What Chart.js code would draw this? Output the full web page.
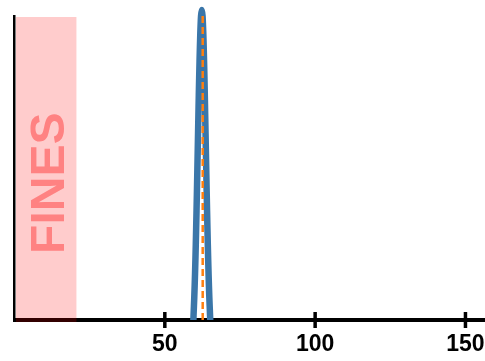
<!DOCTYPE html>
<html>
<head>
<meta charset="utf-8">
<script src="https://cdn.jsdelivr.net/npm/chart.js@4"></script>
<style>
  body { margin: 0; background: #fff; }
</style>
</head>
<body>
<canvas id="chart" width="485" height="361"></canvas>
<script>
// Distribution curve (x = size, y = relative height)
const curveX = [59.5, 59.55, 59.8, 60.05, 60.3, 60.55, 60.8, 61.05, 61.3, 61.55, 61.8, 62.05, 62.3,
                62.55, 62.8, 63.05, 63.3, 63.55, 63.8, 64.05, 64.3, 64.55, 64.8, 65.05, 65.1];
const curveY = [0, 0.014, 0.075, 0.153, 0.248, 0.36, 0.484, 0.613, 0.739, 0.852, 0.942, 1.0, 1.02,
                1.0, 0.942, 0.852, 0.739, 0.613, 0.484, 0.36, 0.248, 0.153, 0.075, 0.014, 0];

// Dashed marker (mean)
const markerX = [62.6, 62.6];
const markerY = [0, 1.0];

// Shaded "FINES" region
const finesRange = [0.5, 20.6];
const finesLabel = 'FINES';

// Axis
const xRange = [0, 156.5];
const tickValues = [50, 100, 150];

const toPoints = (xs, ys) => xs.map((x, i) => ({ x: x, y: ys[i] }));

/**
 * Shaded band with rotated label, and tick marks that cross the axis
 */
const extrasPlugin = {
  id: 'extras',
  afterDraw(chart) {
    const ctx = chart.ctx;
    const xs = chart.scales.x;
    const ys = chart.scales.y;
    const area = chart.chartArea;

    // tick marks
    ctx.save();
    ctx.strokeStyle = '#000';
    ctx.lineWidth = 3.5;
    tickValues.forEach(v => {
      const px = xs.getPixelForValue(v);
      ctx.beginPath();
      ctx.moveTo(px, area.bottom - 8);
      ctx.lineTo(px, area.bottom + 8);
      ctx.stroke();
    });
    ctx.restore();

    // band
    const x0 = xs.getPixelForValue(finesRange[0]);
    const x1 = xs.getPixelForValue(finesRange[1]);
    ctx.save();
    ctx.fillStyle = 'rgba(255, 0, 0, 0.2)';
    ctx.fillRect(x0, area.top + 1, x1 - x0, area.bottom + 2 - (area.top + 1));

    // label
    const cx = (x0 + x1) / 2 + 5;
    const cy = ys.getPixelForValue(0.45);
    ctx.translate(cx, cy);
    ctx.rotate(-Math.PI / 2);
    ctx.fillStyle = '#ff8282';
    ctx.font = 'bold 48px "Liberation Sans", Arial, sans-serif';
    ctx.textAlign = 'center';
    ctx.textBaseline = 'middle';
    ctx.fillText(finesLabel, 0, 0);
    ctx.restore();
  }
};

const ctx = document.getElementById('chart').getContext('2d');

new Chart(ctx, {
  type: 'line',
  data: {
    datasets: [
      {
        data: toPoints(markerX, markerY),
        borderColor: '#ff7f0e',
        borderWidth: 2.5,
        borderDash: [7, 4],
        pointRadius: 0,
        order: 0,
        clip: { left: false, top: false, right: false, bottom: 0 },
      },
      {
        data: toPoints(curveX, curveY),
        borderColor: '#3a76a9',
        borderWidth: 6.5,
        borderJoinStyle: 'round',
        tension: 0.3,
        pointRadius: 0,
        order: 1,
        clip: { left: false, top: false, right: false, bottom: 0 },
      }
    ]
  },
  options: {
    responsive: false,
    animation: false,
    layout: { padding: { top: 16, left: 0, right: 0, bottom: 0 } },
    plugins: {
      legend: { display: false },
      tooltip: { enabled: false },
    },
    scales: {
      x: {
        type: 'linear',
        min: xRange[0],
        max: xRange[1],
        z: 1,
        grid: { display: false, drawTicks: false },
        border: { display: true, color: '#000', width: 4 },
        afterBuildTicks: scale => {
          scale.ticks = tickValues.map(v => ({ value: v }));
        },
        afterFit: scale => {
          scale.height = 41;
          scale.paddingLeft = 0;
          scale.paddingRight = 0;
        },
        ticks: {
          padding: 11,
          maxRotation: 0,
          autoSkip: false,
          color: '#000',
          font: { family: '"Liberation Sans", Arial, sans-serif', size: 23, weight: 'bold' },
        },
      },
      y: {
        min: 0,
        max: 1,
        z: 1,
        grid: { display: false, drawTicks: false },
        border: { display: true, color: '#000', width: 2.5 },
        ticks: { display: false },
        afterFit: scale => {
          scale.width = 14.5;
        },
      }
    }
  },
  plugins: [extrasPlugin]
});
</script>
</body>
</html>
